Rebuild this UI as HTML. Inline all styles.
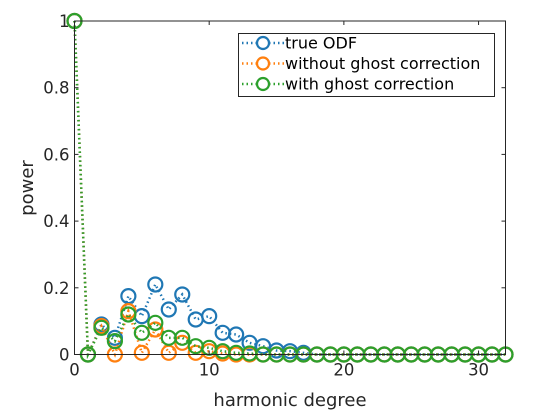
<!DOCTYPE html>
<html><head><meta charset="utf-8"><style>
html,body{margin:0;padding:0;background:#fff;}
svg{display:block;font-family:"DejaVu Sans","Liberation Sans",sans-serif;}
</style></head><body>
<svg id="chart" width="560" height="420" viewBox="0 0 560 420" xmlns="http://www.w3.org/2000/svg">
<rect x="0" y="0" width="560" height="420" fill="#fff"/>
<g id="marks"></g>
<g id="axes"></g>
<text x="290" y="406" font-size="18" text-anchor="middle" fill="#262626">harmonic degree</text>
<text transform="translate(33,188) rotate(-90)" font-size="18" text-anchor="middle" fill="#262626">power</text>
<g id="legend"></g>
</svg>
<script>
const seriesNames = ["true ODF","without ghost correction","with ghost correction"];
const trueODF = [1,0,0.09,0.05,0.175,0.115,0.21,0.135,0.18,0.105,0.115,0.065,0.06,0.035,0.025,0.012,0.01,0.005,0,0,0,0,0,0,0,0,0,0,0,0,0,0,0];
const withoutGhost = [1,0,0.085,0,0.13,0.005,0.075,0.005,0.035,0.005,0.01,0.003,0,0,0,0,0,0,0,0,0,0,0,0,0,0,0,0,0,0,0,0,0];
const withGhost = [1,0,0.08,0.04,0.12,0.065,0.095,0.05,0.05,0.025,0.02,0.01,0.005,0.003,0,0,0,0,0,0,0,0,0,0,0,0,0,0,0,0,0,0,0];
const xTicks = [0,10,20,30];
const yTicks = [0,0.2,0.4,0.6,0.8,1];
const yTickLabels = ["0","0.2","0.4","0.6","0.8","1"];

const L=74.5,R=505.5,T=21,B=354.5,XMAX=32,YMAX=1;
const sx=v=>L+(R-L)*v/XMAX;
const sy=v=>B-(B-T)*v/YMAX;
const NS="http://www.w3.org/2000/svg";
function mk(tag,attrs,parent){const e=document.createElementNS(NS,tag);for(const k in attrs)e.setAttribute(k,attrs[k]);parent.appendChild(e);return e;}
const colors=["#1f77b4","#ff7f0e","#2ca02c"];
const all=[trueODF,withoutGhost,withGhost];
const marks=document.getElementById('marks');
all.forEach((s,si)=>{
  const g=mk('g',{},marks);
  
  
  const pts=s.map((v,i)=>sx(i)+','+sy(v)).join(' ');
  const pl=mk('polyline',{points:pts,fill:'none',stroke:colors[si],'stroke-width':2.5,'stroke-dasharray':'1.5 3'},g);
  
  
  s.forEach((v,i)=>{
    const c=mk('circle',{cx:sx(i),cy:sy(v),r:7,fill:'none',stroke:colors[si],'stroke-width':2.2},g);
    
    
  });
});
const ax=document.getElementById('axes');
const fr=mk('rect',{x:L,y:T,width:R-L,height:B-T,fill:'none',stroke:'#262626','stroke-width':1},ax);


xTicks.forEach(t=>{
  const x=sx(t);
  mk('line',{x1:x,y1:B,x2:x,y2:B-4,stroke:'#262626'},ax);
  mk('line',{x1:x,y1:T,x2:x,y2:T+4,stroke:'#262626'},ax);
  const tx=mk('text',{x:x,y:B+21,'font-size':16.5,'text-anchor':'middle',fill:'#262626'},ax);
  tx.textContent=t;
  
  
});
yTicks.forEach((t,i)=>{
  const y=sy(t);
  mk('line',{x1:L,y1:y,x2:L+4,y2:y,stroke:'#262626'},ax);
  mk('line',{x1:R,y1:y,x2:R-4,y2:y,stroke:'#262626'},ax);
  const tx=mk('text',{x:L-5,y:y+6,'font-size':16.5,'text-anchor':'end',fill:'#262626'},ax);
  tx.textContent=yTickLabels[i];
  
  
});
const lg=document.getElementById('legend');
const lb=mk('rect',{x:238.5,y:33.5,width:256,height:63,fill:'#fff',stroke:'#262626','stroke-width':1},lg);


seriesNames.forEach((n,i)=>{
  const y=43+i*20.5;
  const g=mk('g',{},lg);
  
  
  mk('line',{x1:242,y1:y,x2:284,y2:y,stroke:colors[i],'stroke-width':2.5,'stroke-dasharray':'1.5 3'},g);
  mk('circle',{cx:263,cy:y,r:6,fill:'#fff',stroke:colors[i],'stroke-width':2.2},g);
  const t=mk('text',{x:285,y:y+5.5,'font-size':16,fill:'#000'},g);
  t.textContent=n;
  t.setAttribute('textLength', t.getComputedTextLength ? '' : '');
});
document.querySelectorAll('#legend text').forEach(t=>t.removeAttribute('textLength'));
</script>
</body></html>
